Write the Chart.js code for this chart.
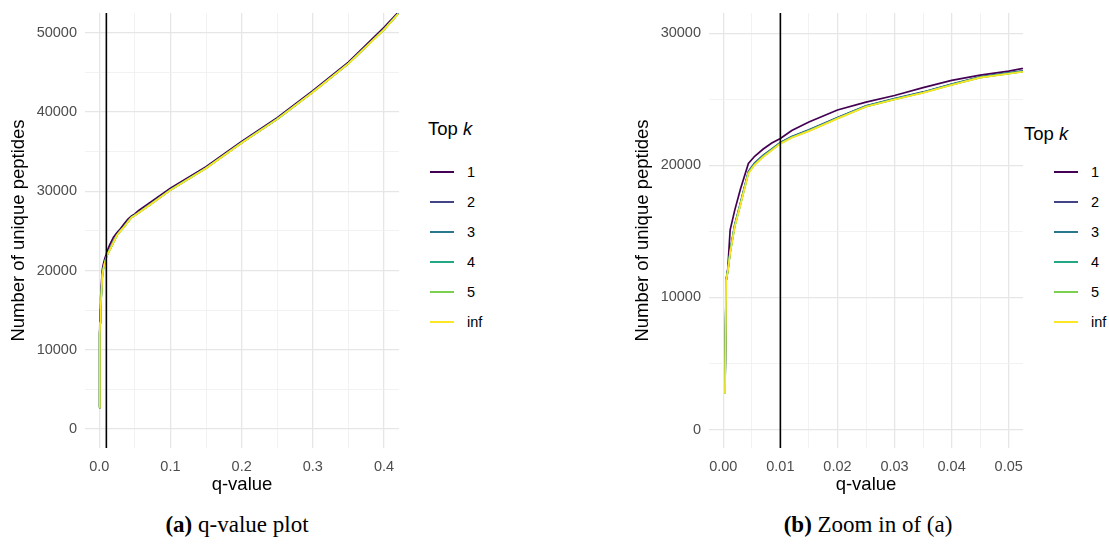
<!DOCTYPE html>
<html lang="en">
<head>
    <meta charset="UTF-8">
    <title>q-value plot</title>
    <script src="https://cdn.jsdelivr.net/npm/chart.js"></script>
    <style>
        body { margin: 0; background: #fff; }
        #page { position: relative; width: 1109px; height: 545px; background: #fff; overflow: hidden; }
        canvas { position: absolute; top: 0; }
        .legend { position: absolute; font-family: 'Liberation Sans', Arial, sans-serif; color: #000; }
        .legend .title { position: absolute; font-size: 18.5px; white-space: nowrap; }
        .legend .item { position: absolute; height: 20px; }
        .legend .swatch { position: absolute; top: 9px; width: 24px; height: 2px; }
        .legend .lab { position: absolute; left: 37px; top: 1px; font-size: 14.5px; line-height: 18px; }
        .caption { position: absolute; top: 512px; font-family: 'Liberation Serif', 'DejaVu Serif', serif; font-size: 23px; white-space: nowrap; transform: translateX(-50%); }
    </style>
</head>
<body>
<div id="page">
    <canvas id="chartA" width="400" height="500" style="left:0px"></canvas>
    <canvas id="chartB" width="400" height="500" style="left:624px"></canvas>
    <div class="legend" id="legendA" style="left:428px; top:0px"></div>
    <div class="legend" id="legendB" style="left:1024px; top:0px"></div>
    <div class="caption" style="left:237px"><b>(a)</b> q-value plot</div>
    <div class="caption" style="left:868px"><b>(b)</b> Zoom in of (a)</div>
</div>
<script>
    // q-values (x) shared by all series
    var qValues = [0.0003, 0.0005, 0.0008, 0.0012, 0.002, 0.003, 0.0044, 0.0055, 0.007, 0.0085,
                   0.01, 0.012, 0.015, 0.02, 0.025, 0.03, 0.035, 0.04, 0.045, 0.05,
                   0.055, 0.07, 0.1, 0.15, 0.2, 0.25, 0.3, 0.35, 0.4, 0.42];

    // number of unique peptides for each top k
    var top1 = [2700, 11300, 12200, 15100, 16600, 18200, 20150, 20700, 21250, 21700,
                22050, 22650, 23300, 24200, 24800, 25300, 25900, 26450, 26850, 27150,
                27550, 28500, 30400, 33100, 36300, 39300, 42700, 46300, 50700, 52600];
    var top2 = [2700, 11300, 12050, 13500, 15500, 17150, 19550, 20200, 20780, 21260,
                21750, 22200, 22700, 23640, 24520, 25070, 25570, 26170, 26710, 27010,
                27310, 28260, 30200, 32950, 36150, 39150, 42550, 46150, 50460, 52450];
    var top3 = [2700, 11300, 12030, 13450, 15450, 17100, 19500, 20150, 20740, 21220,
                21720, 22170, 22670, 23610, 24500, 25050, 25550, 26150, 26690, 26990,
                27290, 28240, 30180, 32930, 36130, 39130, 42530, 46130, 50440, 52430];
    var top4 = [2700, 11300, 12020, 13400, 15400, 17060, 19460, 20100, 20700, 21190,
                21690, 22140, 22640, 23580, 24480, 25030, 25530, 26130, 26670, 26970,
                27270, 28220, 30170, 32920, 36120, 39120, 42520, 46120, 50420, 52420];
    var top5 = [2700, 11300, 12010, 13370, 15370, 17030, 19430, 20070, 20670, 21170,
                21670, 22120, 22620, 23560, 24460, 25010, 25510, 26110, 26660, 26960,
                27260, 28210, 30160, 32910, 36110, 39110, 42510, 46110, 50410, 52410];
    var topInf = [2700, 11300, 12000, 13350, 15350, 17000, 19400, 20050, 20650, 21150,
                  21650, 22100, 22600, 23550, 24450, 25000, 25500, 26100, 26650, 26950,
                  27250, 28200, 30150, 32900, 36100, 39100, 42500, 46100, 50400, 52400];

    var seriesLabels = ['1', '2', '3', '4', '5', 'inf'];
    var seriesValues = [top1, top2, top3, top4, top5, topInf];
    var seriesColors = ['#440154', '#414487', '#2A788E', '#22A884', '#7AD151', '#FDE725'];

    var qThreshold = 0.01;

    // axis ticks
    var xMajorA = [0, 0.1, 0.2, 0.3, 0.4];
    var xMinorA = [0.05, 0.15, 0.25, 0.35];
    var yMajorA = [0, 10000, 20000, 30000, 40000, 50000];
    var yMinorA = [5000, 15000, 25000, 35000, 45000];
    var xMajorB = [0, 0.01, 0.02, 0.03, 0.04, 0.05];
    var xMinorB = [0.005, 0.015, 0.025, 0.035, 0.045];
    var yMajorB = [0, 10000, 20000, 30000];
    var yMinorB = [5000, 15000, 25000];

    var sans = "'Liberation Sans', Arial, sans-serif";

    // vertical line at the q-value cut-off
    var vlinePlugin = {
        id: 'vline',
        afterDatasetsDraw: function(chart) {
            var x = chart.scales.x.getPixelForValue(qThreshold);
            var area = chart.chartArea;
            var ctx = chart.ctx;
            ctx.save();
            ctx.strokeStyle = '#000';
            ctx.lineWidth = 1.6;
            ctx.beginPath();
            ctx.moveTo(x, area.top);
            ctx.lineTo(x, area.bottom);
            ctx.stroke();
            ctx.restore();
        }
    };

    function makeScale(major, minor, min, max, fmt, isX) {
        return {
            type: 'linear',
            min: min,
            max: max,
            border: { display: false },
            afterBuildTicks: function(axis) {
                axis.ticks = major.concat(minor).sort(function(a, b) { return a - b; })
                    .map(function(v) { return { value: v }; });
            },
            afterFit: function(axis) {
                if (isX) axis.height = 52; else axis.width = 85;
                // labels may hang over the panel edge, as in ggplot
                axis.paddingTop = 0;
                axis.paddingBottom = 0;
                axis.paddingLeft = 0;
                axis.paddingRight = 0;
            },
            grid: {
                drawTicks: false,
                color: function(c) { return major.indexOf(c.tick.value) >= 0 ? '#e6e6e6' : '#efefef'; },
                lineWidth: function(c) { return major.indexOf(c.tick.value) >= 0 ? 1.3 : 0.8; }
            },
            ticks: {
                autoSkip: false,
                maxRotation: 0,
                padding: isX ? 10 : 8,
                color: '#4d4d4d',
                font: { family: sans, size: 14.5 },
                callback: function(v) { return major.indexOf(v) >= 0 ? fmt(v) : ''; }
            },
            title: {
                display: true,
                text: isX ? 'q-value' : 'Number of unique peptides',
                color: '#000',
                font: { family: sans, size: 18.5 },
                padding: isX ? { top: 0, bottom: 4 } : { top: 8, bottom: 0 }
            }
        };
    }

    function makeChart(id, xs, ys) {
        var datasets = seriesValues.map(function(vals, i) {
            return {
                label: seriesLabels[i],
                data: qValues.map(function(q, j) { return { x: q, y: vals[j] }; }),
                borderColor: seriesColors[i],
                borderWidth: 1.7,
                pointRadius: 0,
                tension: 0,
                fill: false,
                order: seriesLabels.length - i   // inf drawn last, on top
            };
        });
        return new Chart(document.getElementById(id).getContext('2d'), {
            type: 'line',
            data: { datasets: datasets },
            options: {
                responsive: false,
                animation: false,
                layout: { padding: { left: 0, right: 1, top: 13, bottom: 0 } },
                plugins: { legend: { display: false }, tooltip: { enabled: false } },
                scales: { x: xs, y: ys }
            },
            plugins: [vlinePlugin]
        });
    }

    makeChart('chartA',
        makeScale(xMajorA, xMinorA, -0.02, 0.421, function(v) { return v.toFixed(1); }, true),
        makeScale(yMajorA, yMinorA, -2400, 52500, function(v) { return String(v); }, false));
    makeChart('chartB',
        makeScale(xMajorB, xMinorB, -0.0025, 0.0525, function(v) { return v.toFixed(2); }, true),
        makeScale(yMajorB, yMinorB, -1400, 31550, function(v) { return String(v); }, false));

    // legends
    function buildLegend(id, titleTop, swatchLeft) {
        var el = document.getElementById(id);
        var html = '<div class="title" style="left:0px; top:' + titleTop + 'px">Top <i>k</i></div>';
        for (var i = 0; i < seriesLabels.length; i++) {
            html += '<div class="item" style="left:' + swatchLeft + 'px; top:' + (162 + i * 30) + 'px">' +
                '<div class="swatch" style="background:' + seriesColors[i] + '"></div>' +
                '<div class="lab">' + seriesLabels[i] + '</div></div>';
        }
        el.innerHTML = html;
    }
    buildLegend('legendA', 118, 2);
    buildLegend('legendB', 123, 30);
</script>
</body>
</html>
